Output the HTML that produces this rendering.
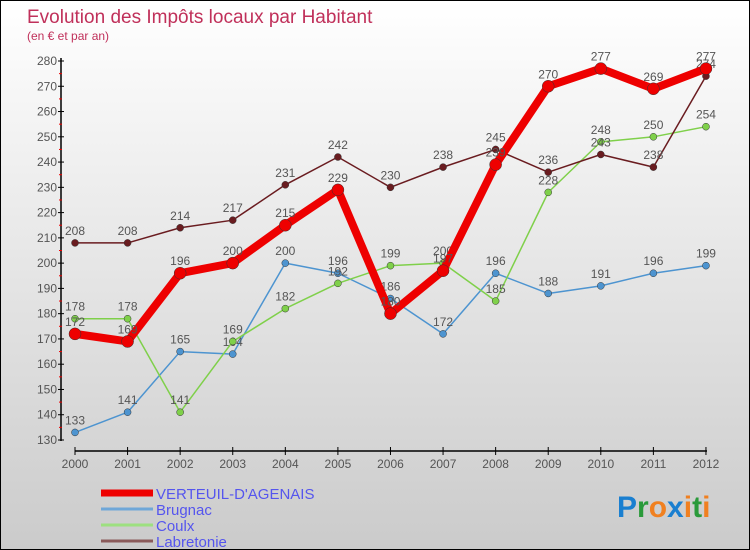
<!DOCTYPE html>
<html><head><meta charset="utf-8"><style>
body{margin:0}
#c{width:748px;height:548px;border:1px solid #000;background:linear-gradient(#fff,#cbcbcb);position:relative;font-family:"Liberation Sans",sans-serif;overflow:hidden}
</style></head><body>
<div id="c">
<svg id="s" width="748" height="548" xmlns="http://www.w3.org/2000/svg">
<text x="26" y="22" font-size="19" fill="#c0305a">Evolution des Impôts locaux par Habitant</text>
<text x="26" y="39" font-size="12" fill="#c0305a">(en € et par an)</text>
<g id="g"></g>
<text x="616" y="516" font-size="30" font-weight="bold"><tspan fill="#1a7fd0">P</tspan><tspan fill="#2a9a3a">r</tspan><tspan fill="#f08020">o</tspan><tspan fill="#1a7fd0">x</tspan><tspan fill="#f08020">i</tspan><tspan fill="#2a9a3a">t</tspan><tspan fill="#f08020">i</tspan></text>
</svg></div>
<script>
const years=[2000,2001,2002,2003,2004,2005,2006,2007,2008,2009,2010,2011,2012];
const yTicks=[130,140,150,160,170,180,190,200,210,220,230,240,250,260,270,280];
const verteuil=[172,169,196,200,215,229,180,197,239,270,277,269,277];
const brugnac=[133,141,165,164,200,196,186,172,196,188,191,196,199];
const coulx=[178,178,141,169,182,192,199,200,185,228,248,250,254];
const labretonie=[208,208,214,217,231,242,230,238,245,236,243,238,274];
const NS="http://www.w3.org/2000/svg";
const g=document.getElementById('g');
const X=i=>74+i*52.58;
const Y=v=>439-(v-130)*(379/150);
function mk(t,a,p){const e=document.createElementNS(NS,t);for(const k in a)e.setAttribute(k,a[k]);(p||g).appendChild(e);return e;}
let e;
e=mk('line',{x1:60,y1:57,x2:60,y2:440,stroke:'#000','stroke-width':1.5});


e=mk('line',{x1:74,y1:450,x2:706,y2:450,stroke:'#000','stroke-width':1.5});


yTicks.forEach((v,k)=>{
 mk('line',{x1:57,y1:Y(v),x2:63,y2:Y(v),stroke:'#000'});
 if(k<yTicks.length-1) mk('line',{x1:58,y1:Y(v+5),x2:61,y2:Y(v+5),stroke:'#e00'});
 e=mk('text',{x:56,y:Y(v)+4,'font-size':12,fill:'#555','text-anchor':'end'});
 e.textContent=v;
 
 
});
years.forEach((y,i)=>{
 mk('line',{x1:X(i),y1:446,x2:X(i),y2:454,stroke:'#000'});
 e=mk('text',{x:X(i),y:467,'font-size':12,fill:'#555','text-anchor':'middle'});
 e.textContent=y;
 
 
});
function series(d,col,w,r,name){
 const s=mk('g',{});
 
 
 mk('polyline',{points:d.map((v,i)=>X(i)+','+Y(v)).join(' '),fill:'none',stroke:col,'stroke-width':w,'stroke-linejoin':'round'},s);
 d.forEach((v,i)=>{
  const c=mk('circle',{cx:X(i),cy:Y(v),r:r,fill:col,stroke:'#333','stroke-width':0.5},s);
  
  
  const t=mk('text',{x:X(i),y:Y(v)-8,'font-size':12,fill:'#555','text-anchor':'middle'},s);
  t.textContent=v;
 });
}
series(brugnac,'#4d94d0',1.5,3.5,'brugnac');
series(coulx,'#7fd04a',1.5,3.5,'coulx');
series(labretonie,'#6a1c20',1.5,3.5,'labretonie');
series(verteuil,'#ee0000',8,6,'verteuil');
const legend=[['VERTEUIL-D\'AGENAIS','#ee0000',7],['Brugnac','#6fa7d8',3],['Coulx','#9de080',3],['Labretonie','#8a5a5a',3]];
legend.forEach((l,i)=>{
 const y=492+i*16;
 const lg=mk('g',{});
 
 
 mk('line',{x1:100,y1:y,x2:152,y2:y,stroke:l[1],'stroke-width':l[2]},lg);
 const t=mk('text',{x:155,y:y+6,'font-size':15,fill:'#5555ee'},lg);
 t.textContent=l[0];
});
</script>
</body></html>
